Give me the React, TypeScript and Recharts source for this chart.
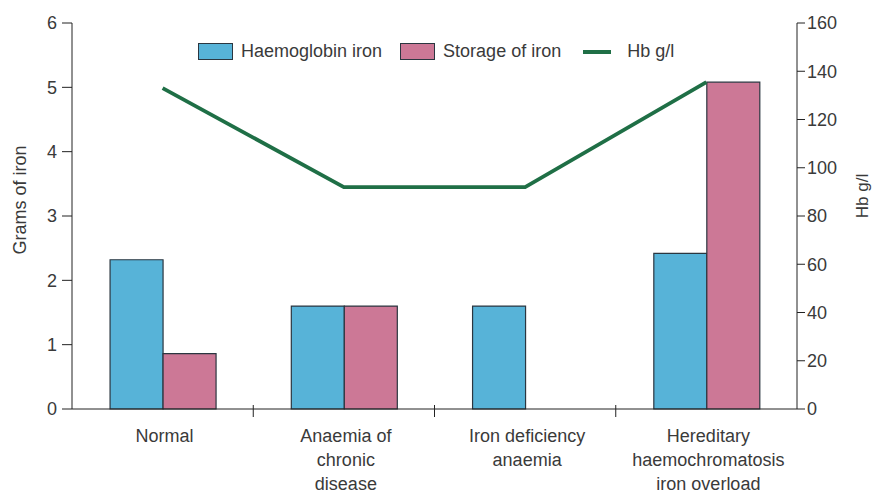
import {
  Bar,
  ComposedChart,
  Line,
  XAxis,
  YAxis,
} from "recharts";

const categories = [
  "Normal",
  "Anaemia of\nchronic\ndisease",
  "Iron deficiency\nanaemia",
  "Hereditary\nhaemochromatosis\niron overload",
];
const haemoglobinIron = [2.32, 1.6, 1.6, 2.42];
const storageIron: (number | null)[] = [0.86, 1.6, null, 5.08];
const hbGl = [133, 92, 92, 135.5];

const leftTicks = [0, 1, 2, 3, 4, 5, 6];
const rightTicks = [0, 20, 40, 60, 80, 100, 120, 140, 160];

const data = categories.map((name, i) => ({
  name,
  hgb: haemoglobinIron[i],
  storage: storageIron[i],
  hb: hbGl[i],
}));

const FONT = "'Liberation Sans Narrow', 'Liberation Sans', Arial, sans-serif";
const BLUE = "#57b3d8";
const PINK = "#cc7896";
const GREEN = "#1f6f46";
const EDGE = "#2b3640";
const TEXT = "#3a3a3a";

// category label plus a short tick at the right edge of each band
const CategoryTick = (props: any) => {
  const { x, y, payload, index, visibleTicksCount } = props;
  const lines = String(payload.value).split("\n");
  const edge = x + (payload.offset || 0);
  return (
    <g>
      {index < visibleTicksCount - 1 && (
        <line x1={edge} x2={edge} y1={y - 12} y2={y} stroke="#222" />
      )}
      <text x={x + 2} y={y + 25} textAnchor="middle" fill={TEXT} fontSize={18} fontFamily={FONT}>
        {lines.map((l, i) => (
          <tspan key={i} x={x + 2} dy={i === 0 ? 0 : 24}>
            {l}
          </tspan>
        ))}
      </text>
    </g>
  );
};

const LegendBox = () => {
  const item = { display: "flex", alignItems: "center", marginRight: 18 };
  const swatch = (c: string) => ({
    width: 33,
    height: 15,
    background: c,
    border: `1px solid ${EDGE}`,
    marginRight: 8,
  });
  return (
    <div
      style={{
        position: "absolute",
        top: 41,
        left: 198,
        display: "flex",
        alignItems: "center",
        fontFamily: FONT,
        fontSize: 18,
        color: TEXT,
      }}
    >
      <div style={item}>
        <div style={swatch(BLUE)} />
        Haemoglobin iron
      </div>
      <div style={item}>
        <div style={swatch(PINK)} />
        Storage of iron
      </div>
      <div style={item}>
        <div style={{ width: 28, height: 4, background: GREEN, marginRight: 16, marginLeft: 4 }} />
        Hb g/l
      </div>
    </div>
  );
};

export default function App() {
  return (
    <div
      style={{
        position: "fixed",
        top: 0,
        left: 0,
        width: 874,
        height: 493,
        background: "#fff",
      }}
    >
      <ComposedChart
        width={874}
        height={493}
        data={data}
        margin={{ top: 23, right: 0, left: 0, bottom: 0 }}
        barCategoryGap="21%"
        barGap={0}
      >
        <XAxis
          dataKey="name"
          interval={0}
          height={84}
          tick={<CategoryTick />}
          tickLine={false}
          axisLine={{ stroke: "#222" }}
        />
        <YAxis
          yAxisId="left"
          domain={[0, 6]}
          ticks={leftTicks}
          width={72}
          tickSize={10}
          tick={{ fill: TEXT, fontSize: 18, fontFamily: FONT, dx: -3 }}
          axisLine={{ stroke: "#222" }}
          tickLine={{ stroke: "#222" }}
          label={{
            value: "Grams of iron",
            angle: -90,
            position: "center",
            dx: -16,
            dy: -16,
            style: { textAnchor: "middle", fill: TEXT, fontSize: 18, fontFamily: FONT },
          }}
        />
        <YAxis
          yAxisId="right"
          orientation="right"
          domain={[0, 160]}
          ticks={rightTicks}
          width={77}
          tickSize={8}
          tick={{ fill: TEXT, fontSize: 18, fontFamily: FONT }}
          axisLine={{ stroke: "#222" }}
          tickLine={{ stroke: "#222" }}
          label={{
            value: "Hb g/l",
            angle: -90,
            position: "center",
            dx: 26,
            dy: -20,
            style: { textAnchor: "middle", fill: TEXT, fontSize: 17, fontFamily: FONT },
          }}
        />
        <Bar
          yAxisId="left"
          dataKey="hgb"
          name="Haemoglobin iron"
          fill={BLUE}
          stroke={EDGE}
          strokeWidth={1.2}
          isAnimationActive={false}
        />
        <Bar
          yAxisId="left"
          dataKey="storage"
          name="Storage of iron"
          fill={PINK}
          stroke={EDGE}
          strokeWidth={1.2}
          isAnimationActive={false}
        />
        <Line
          yAxisId="right"
          dataKey="hb"
          name="Hb g/l"
          stroke={GREEN}
          strokeWidth={3.8}
          dot={false}
          activeDot={false}
          isAnimationActive={false}
        />
      </ComposedChart>
      <LegendBox />
    </div>
  );
}
